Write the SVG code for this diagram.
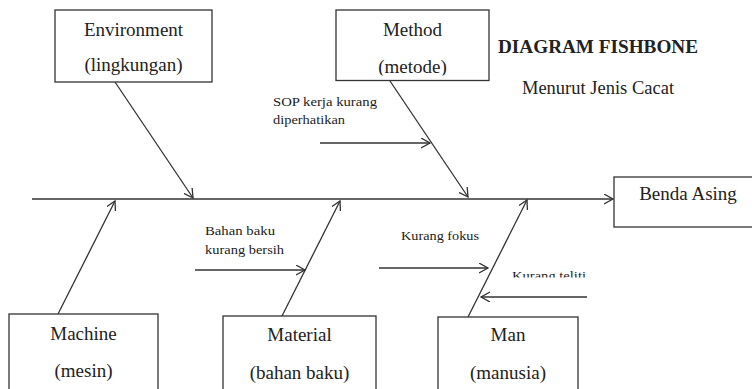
<svg xmlns="http://www.w3.org/2000/svg" width="752" height="389" viewBox="0 0 752 389">
<style>
.box{fill:#fff;stroke:#333;stroke-width:1.3}
.lbl{font-family:'Liberation Serif','Times New Roman','DejaVu Serif',serif;font-size:19px;fill:#222;text-anchor:middle}
.sm{font-family:'Liberation Serif','Times New Roman','DejaVu Serif',serif;font-size:12.5px;fill:#222}
.ttl{font-family:'Liberation Serif','Times New Roman','DejaVu Serif',serif;font-size:18.5px;fill:#222;text-anchor:middle}
.ln{stroke:#333;stroke-width:1.3;fill:none;marker-end:url(#ah)}
</style>
<defs>
<marker id="ah" markerUnits="userSpaceOnUse" markerWidth="12" markerHeight="12" refX="9" refY="5" orient="auto">
<path d="M0,0 L9,5 L0,10" fill="none" stroke="#333" stroke-width="1.3"/>
</marker>
<clipPath id="cm"><rect x="330" y="0" width="170" height="75.5"/></clipPath>
<clipPath id="ct"><rect x="500" y="260" width="100" height="17.5"/></clipPath>
</defs>
<rect width="752" height="389" fill="#fff"/>
<g id="connectors">
<line class="ln" x1="32" y1="199" x2="613" y2="199"/>
<line class="ln" x1="115" y1="82" x2="193" y2="198"/>
<line class="ln" x1="390" y1="81" x2="468" y2="197"/>
<line class="ln" x1="58" y1="314" x2="115" y2="201"/>
<line class="ln" x1="282" y1="316" x2="340" y2="201"/>
<line class="ln" x1="468" y1="317" x2="527" y2="200"/>
<line class="ln" x1="320" y1="143" x2="430" y2="143"/>
<line class="ln" x1="195" y1="270" x2="305" y2="270"/>
<line class="ln" x1="379" y1="268" x2="488" y2="268"/>
<line class="ln" x1="587" y1="297" x2="481" y2="297"/>
</g>
<g id="environment">
<rect class="box" x="55" y="10" width="157" height="72"/>
<text class="lbl" x="133.5" y="36" font-family="Liberation Serif, serif">Environment</text>
<text class="lbl" x="133.5" y="71">(lingkungan)</text>
</g>
<g id="method">
<rect class="box" x="336" y="10" width="153" height="70.5"/>
<text class="lbl" x="412.5" y="36">Method</text>
<text class="lbl" x="412.5" y="73" clip-path="url(#cm)">(metode)</text>
</g>
<g id="title">
<text class="ttl" x="598" y="53" font-weight="bold" textLength="200" lengthAdjust="spacingAndGlyphs">DIAGRAM FISHBONE</text>
<text class="ttl" x="598" y="94">Menurut Jenis Cacat</text>
</g>
<g id="benda-asing">
<rect class="box" x="614" y="177" width="150" height="50"/>
<text class="lbl" x="688" y="200">Benda Asing</text>
</g>
<g id="machine">
<rect class="box" x="9" y="314" width="149" height="90"/>
<text class="lbl" x="83.5" y="340">Machine</text>
<text class="lbl" x="83.5" y="377">(mesin)</text>
</g>
<g id="material">
<rect class="box" x="223" y="316" width="153" height="90"/>
<text class="lbl" x="299.5" y="341">Material</text>
<text class="lbl" x="299.5" y="379">(bahan baku)</text>
</g>
<g id="man">
<rect class="box" x="438" y="317" width="140" height="90"/>
<text class="lbl" x="508" y="341">Man</text>
<text class="lbl" x="508" y="379">(manusia)</text>
</g>
<g id="causes">
<text class="sm" x="273" y="106" textLength="104" lengthAdjust="spacingAndGlyphs">SOP kerja kurang</text>
<text class="sm" x="273" y="124" textLength="72" lengthAdjust="spacingAndGlyphs">diperhatikan</text>
<text class="sm" x="205" y="235" textLength="70" lengthAdjust="spacingAndGlyphs">Bahan baku</text>
<text class="sm" x="205" y="254" textLength="79" lengthAdjust="spacingAndGlyphs">kurang bersih</text>
<text class="sm" x="401" y="240" textLength="78" lengthAdjust="spacingAndGlyphs">Kurang fokus</text>
<text class="sm" x="512" y="280" textLength="74" lengthAdjust="spacingAndGlyphs" clip-path="url(#ct)">Kurang teliti</text>
</g>
</svg>
